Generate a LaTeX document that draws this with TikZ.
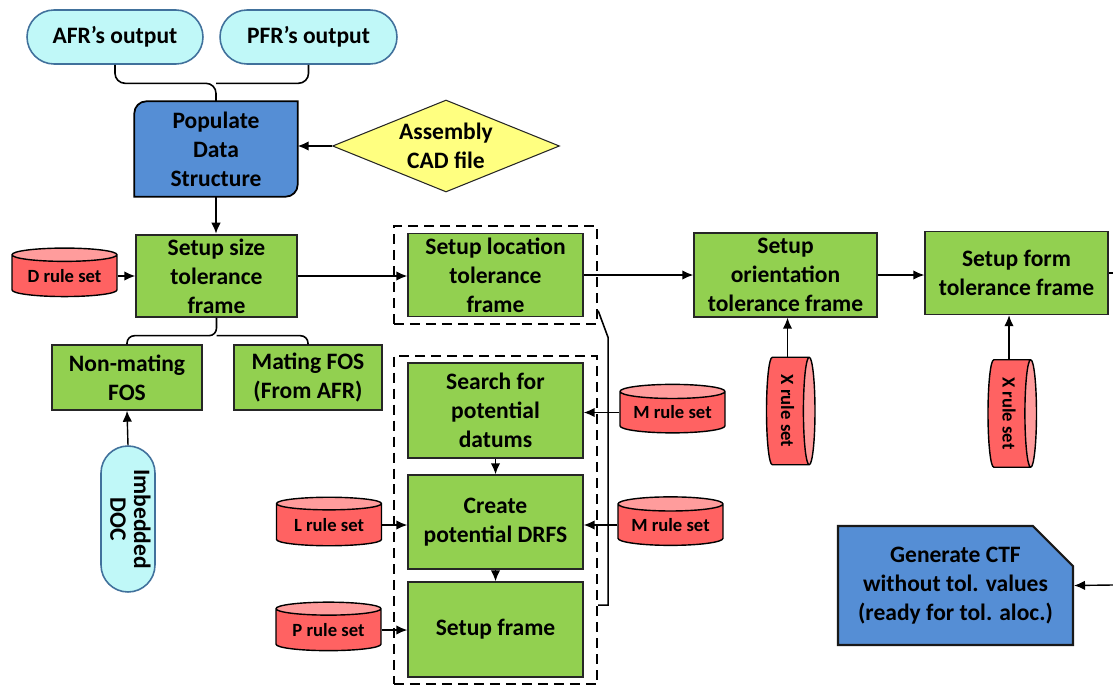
\documentclass[tikz,border=0pt]{standalone}
\usepackage{fontspec}
\setmainfont{Carlito}
\usetikzlibrary{shapes, positioning, arrows.meta, calc, fit, backgrounds}

\definecolor{procgreen}{HTML}{92D050}
\definecolor{datablue}{HTML}{558ED5}
\definecolor{cadyellow}{HTML}{FFFF80}
\definecolor{pillcyan}{HTML}{C0F8F8}
\definecolor{pillborder}{HTML}{41719C}
\definecolor{rulered}{HTML}{FF6262}
\definecolor{ruletop}{HTML}{FF9C9C}

\begin{document}
\begin{tikzpicture}[
    x=0.02cm, y=-0.02cm,
    box/.style={rectangle, draw=black!85, line width=0.8pt, fill=procgreen, align=center, inner sep=0pt},
    io/.style={rectangle, rounded corners=0.54cm, draw=pillborder, line width=0.9pt, fill=pillcyan, align=center, inner sep=0pt},
    rules/.style={cylinder, draw=black, line width=0.8pt, cylinder uses custom fill, cylinder body fill=rulered, cylinder end fill=ruletop,
        inner sep=0pt, align=center, font=\fontsize{10.6}{13}\selectfont\bfseries},
    flat/.style={rules, shape border rotate=90, aspect=0.18, minimum width=2.1cm, minimum height=0.97cm},
    upright/.style={rules, shape border rotate=0, aspect=0.16, minimum width=2.15cm, minimum height=0.97cm},
    group/.style={draw, line width=1.1pt, dash pattern=on 0.2cm off 0.12cm, inner xsep=0.27cm, inner ysep=0.13cm},
    arr/.style={-{Latex[length=2.2mm, width=1.9mm]}, line width=0.8pt},
    font=\fontsize{13.4}{16.5}\selectfont\bfseries
]
    \useasboundingbox (0,0) rectangle (1113,686);

    % --- inputs ---
    \node[io, minimum width=3.52cm, minimum height=1.08cm] (afr) at (115,37) {AFR’s output};
    \node[io, minimum width=3.54cm, minimum height=1.08cm] (pfr) at (308.5,37) {PFR’s output};
    \node[box, draw=none, fill=none, minimum width=3.24cm, minimum height=1.88cm] (pop) at (216,149) {Populate\\Data\\Structure};
    \begin{scope}[on background layer]
        \draw[line width=1pt, fill=datablue] ([yshift=-0.24cm]pop.north west) arc[start angle=180, end angle=90, radius=0.24cm]
            -- (pop.north east) -- ([yshift=0.24cm]pop.south east) arc[start angle=0, end angle=-90, radius=0.24cm]
            -- (pop.south west) -- cycle;
    \end{scope}
    \node[diamond, draw=black!85, line width=0.6pt, fill=cadyellow, align=center, inner sep=0pt, aspect=2.47,
          minimum width=4.54cm, minimum height=1.84cm] (cad) at (446,146) {Assembly\\CAD file};

    \draw[line width=0.9pt, rounded corners=0.2cm] (afr.south) |- ($(pop.north)+(0,-18)$) -- (pop.north);
    \draw[line width=0.9pt, rounded corners=0.2cm] (pfr.south) |- ($(pop.north)+(0,-18)$);
    \draw[arr] (cad.west) -- (pop.east |- cad.west);
    \draw[arr] (pop.south) -- ++(0,37);

    % --- size tolerance ---
    \node[box, minimum width=3.22cm, minimum height=1.64cm] (size) at (216.5,276) {Setup size\\tolerance\\frame};
    \node[flat] (dset) at (64.5,276) {D rule set};
    \node[box, minimum width=3.0cm, minimum height=1.3cm] (nonmating) at (127,377.5) {Non-mating\\FOS};
    \node[box, minimum width=2.96cm, minimum height=1.3cm] (mating) at (308,377.5) {Mating FOS\\(From AFR)};
    \node[io, minimum width=1.08cm, minimum height=2.92cm] (doc) at (128,519)
        {\rotatebox{-90}{\begin{tabular}{@{}c@{}}Imbedded\\[-3pt]DOC\end{tabular}}};

    \draw[arr] (dset.east) -- (size.west |- dset.east);
    \draw[line width=0.9pt, rounded corners=0.15cm] (nonmating.north) |- ($(size.south)+(0,18)$) -- (size.south);
    \draw[line width=0.9pt, rounded corners=0.15cm] (mating.north) |- ($(size.south)+(0,18)$);
    \draw[arr] (doc.north) -- (nonmating.south);

    % --- location / orientation / form ---
    \node[box, minimum width=3.5cm, minimum height=1.66cm] (loc) at (495.5,275) {Setup location\\tolerance\\frame};
    \node[box, minimum width=3.66cm, minimum height=1.68cm] (orient) at (785.5,275) {Setup\\orientation\\tolerance frame};
    \node[box, minimum width=3.66cm, minimum height=1.66cm] (form) at (1016.5,273) {Setup form\\tolerance frame};
    \node[upright] (xa) at (787.5,411) {\rotatebox{-90}{X rule set}};
    \node[upright] (xb) at (1009,413.5) {\rotatebox{-90}{X rule set}};
    \coordinate (outR) at (1113,273);

    \draw[arr] (size.east) -- (loc.west |- size.east);
    \draw[arr] (loc.east) -- (orient.west |- loc.east);
    \draw[arr] (orient.east) -- (form.west |- orient.east);
    \draw[line width=0.8pt] (form.east) -- (outR);
    \draw[arr] (xa.north) -- (xa.north |- orient.south);
    \draw[arr] (xb.north) -- (xb.north |- form.south);

    % --- datum reference frame ---
    \node[box, minimum width=3.5cm, minimum height=1.9cm] (search) at (495.5,410.5) {Search for\\potential\\datums};
    \node[box, minimum width=3.5cm, minimum height=1.88cm] (create) at (495.5,522) {Create\\potential DRFS};
    \node[box, minimum width=3.5cm, minimum height=1.9cm] (sframe) at (495.5,629.5) {Setup frame};
    \node[flat] (ma) at (672.5,412.5) {M rule set};
    \node[flat] (mb) at (670.5,525) {M rule set};
    \node[flat] (lset) at (329,525) {L rule set};
    \node[flat] (pset) at (328.5,630) {P rule set};

    \draw[arr] (search.south) -- (create.north);
    \draw[arr] (create.south) -- (sframe.north);
    \draw[arr] (ma.west) -- (search.east |- ma.west);
    \draw[arr] (mb.west) -- (create.east |- mb.west);
    \draw[arr] (lset.east) -- (create.west |- lset.east);
    \draw[arr] (pset.east) -- (sframe.west |- pset.east);

    \node[group, fit=(loc)] (locgroup) {};
    \node[group, fit=(search)(sframe)] (datgroup) {};
    \draw[line width=0.9pt] ($(locgroup.south east)+(0,-14)$) -- ++(10,27) |- ($(datgroup.south east)+(0,-80)$);

    % --- output ---
    \node[chamfered rectangle, chamfered rectangle corners=north east, chamfered rectangle xsep=0.4cm,
          chamfered rectangle ysep=0.4cm, draw=black!90, line width=1.2pt, fill=datablue, align=center, inner sep=0pt,
          minimum width=4.7cm, minimum height=2.38cm] (gen) at (955.5,585.5)
        {Generate CTF\\without tol. values\\(ready for tol. aloc.)};
    \coordinate (inR) at (1113,585);
    \draw[arr] (inR) -- (gen.east);
\end{tikzpicture}
\end{document}
